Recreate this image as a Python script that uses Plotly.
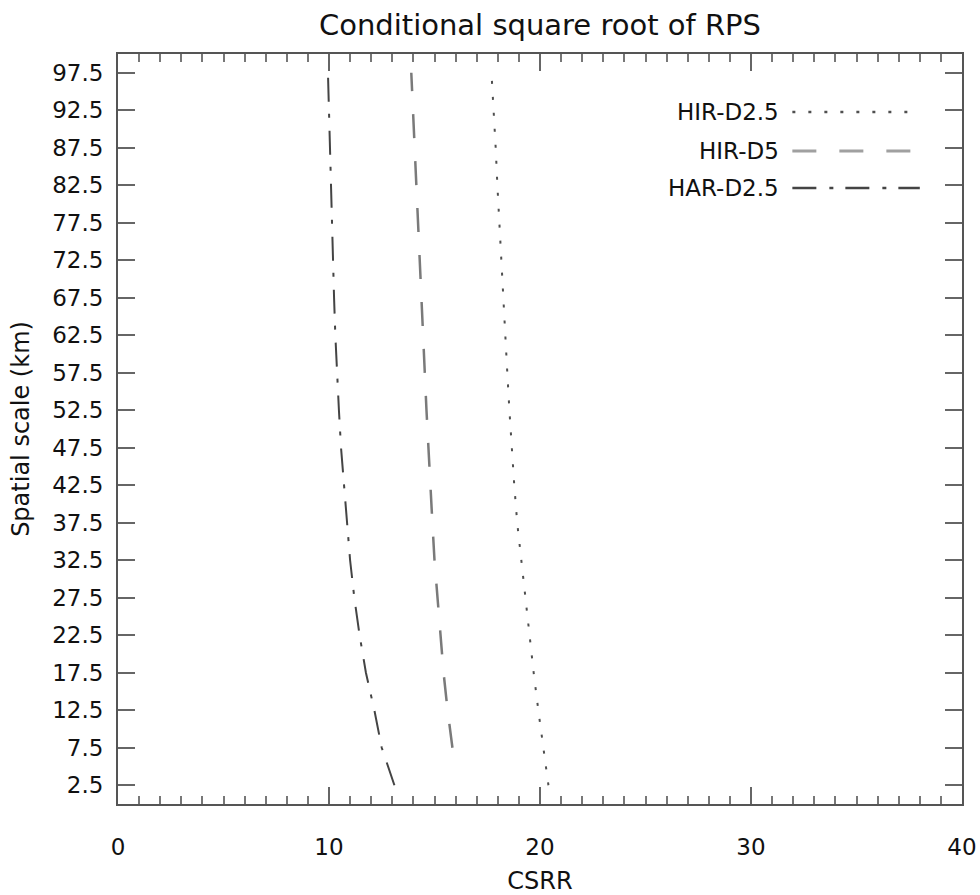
import plotly.graph_objects as go

# Spatial scales (km) at which the score is evaluated
scale_d25 = [2.5, 7.5, 12.5, 17.5, 22.5, 27.5, 32.5, 37.5, 42.5, 47.5,
             52.5, 57.5, 62.5, 67.5, 72.5, 77.5, 82.5, 87.5, 92.5, 97.5]
scale_d5 = [7.5, 12.5, 17.5, 22.5, 27.5, 32.5, 37.5, 42.5, 47.5,
            52.5, 57.5, 62.5, 67.5, 72.5, 77.5, 82.5, 87.5, 92.5, 97.5]

# Conditional square root of RPS for each configuration
csrr_hir_d25 = [20.4, 20.15, 19.92, 19.7, 19.5, 19.3, 19.1, 18.92, 18.78, 18.65,
                18.55, 18.45, 18.35, 18.25, 18.15, 18.06, 17.98, 17.9, 17.8, 17.7]
csrr_hir_d5 = [15.85, 15.62, 15.43, 15.28, 15.13, 15.0, 14.9, 14.8, 14.7,
               14.62, 14.54, 14.46, 14.38, 14.3, 14.22, 14.14, 14.06, 13.98, 13.9]
csrr_har_d25 = [13.1, 12.5, 12.15, 11.75, 11.45, 11.2, 11.0, 10.85, 10.7, 10.57,
                10.47, 10.38, 10.3, 10.24, 10.19, 10.14, 10.1, 10.05, 10.0, 9.95]

y_ticks = scale_d25
legend_names = ["HIR-D2.5", "HIR-D5", "HAR-D2.5"]

FONT = "DejaVu Sans"
TXT = "#111111"
AX = "#555555"

styles = [
    dict(color="#4f4f4f", width=2, dash="3px,13px"),
    dict(color="#7a7a7a", width=2.5, dash="24px,23px"),
    dict(color="#444444", width=2, dash="24px,13px,4px,12px"),
]

fig = go.Figure()
for name, xs, ys, st in zip(legend_names,
                            [csrr_hir_d25, csrr_hir_d5, csrr_har_d25],
                            [scale_d25, scale_d5, scale_d25],
                            styles):
    fig.add_trace(go.Scatter(x=xs, y=ys, mode="lines", name=name,
                             line=st, showlegend=False))

# Legend: right-aligned labels with the line sample to their right
row_y = [0.9227, 0.8707, 0.8213]
legend_colors = ["#4f4f4f", "#a0a0a0", "#444444"]
for name, yy, st, lc in zip(legend_names, row_y, styles, legend_colors):
    fig.add_annotation(x=0.786, y=yy, xref="paper", yref="paper",
                       text=name, showarrow=False, xanchor="right",
                       yanchor="middle",
                       font=dict(family=FONT, size=23, color=TXT))
    fig.add_shape(type="line", xref="paper", yref="paper",
                  x0=0.799, x1=0.950, y0=yy, y1=yy,
                  line=dict(color=lc, width=st["width"] + 0.5,
                            dash=st["dash"]))

fig.update_layout(
    width=980, height=895,
    margin=dict(l=118, r=18, t=54, b=91, autoexpand=False),
    paper_bgcolor="white", plot_bgcolor="white",
    font=dict(family=FONT, size=23, color=TXT),
    title=dict(text="Conditional square root of RPS", x=0.551, xanchor="center",
               y=0.972, yanchor="middle",
               font=dict(family=FONT, size=29, color=TXT)),
)

fig.update_xaxes(
    range=[0, 40], tickmode="linear", tick0=0, dtick=10,
    automargin=False,
    showgrid=False, zeroline=False,
    showline=True, linecolor=AX, linewidth=2, mirror="ticks",
    ticks="inside", ticklen=17, tickwidth=2, tickcolor="#666666",
    minor=dict(ticks="inside", ticklen=8, tickwidth=2, tickcolor="#777777",
               dtick=1, tick0=0, showgrid=False),
    ticklabelstandoff=21,
    tickfont=dict(family=FONT, size=23, color=TXT),
    title=dict(text="CSRR", standoff=16,
               font=dict(family=FONT, size=24, color=TXT)),
)

fig.update_yaxes(
    range=[0, 100], tickmode="array", tickvals=y_ticks,
    ticktext=[f"{v:.1f}" for v in y_ticks],
    automargin=False,
    showgrid=False, zeroline=False,
    showline=True, linecolor=AX, linewidth=2, mirror="ticks",
    ticks="inside", ticklen=17, tickwidth=2, tickcolor="#666666",
    ticklabelstandoff=8,
    tickfont=dict(family=FONT, size=23, color=TXT),
    title=dict(text="Spatial scale (km)", standoff=16,
               font=dict(family=FONT, size=24, color=TXT)),
)

fig.write_html("out.html")
